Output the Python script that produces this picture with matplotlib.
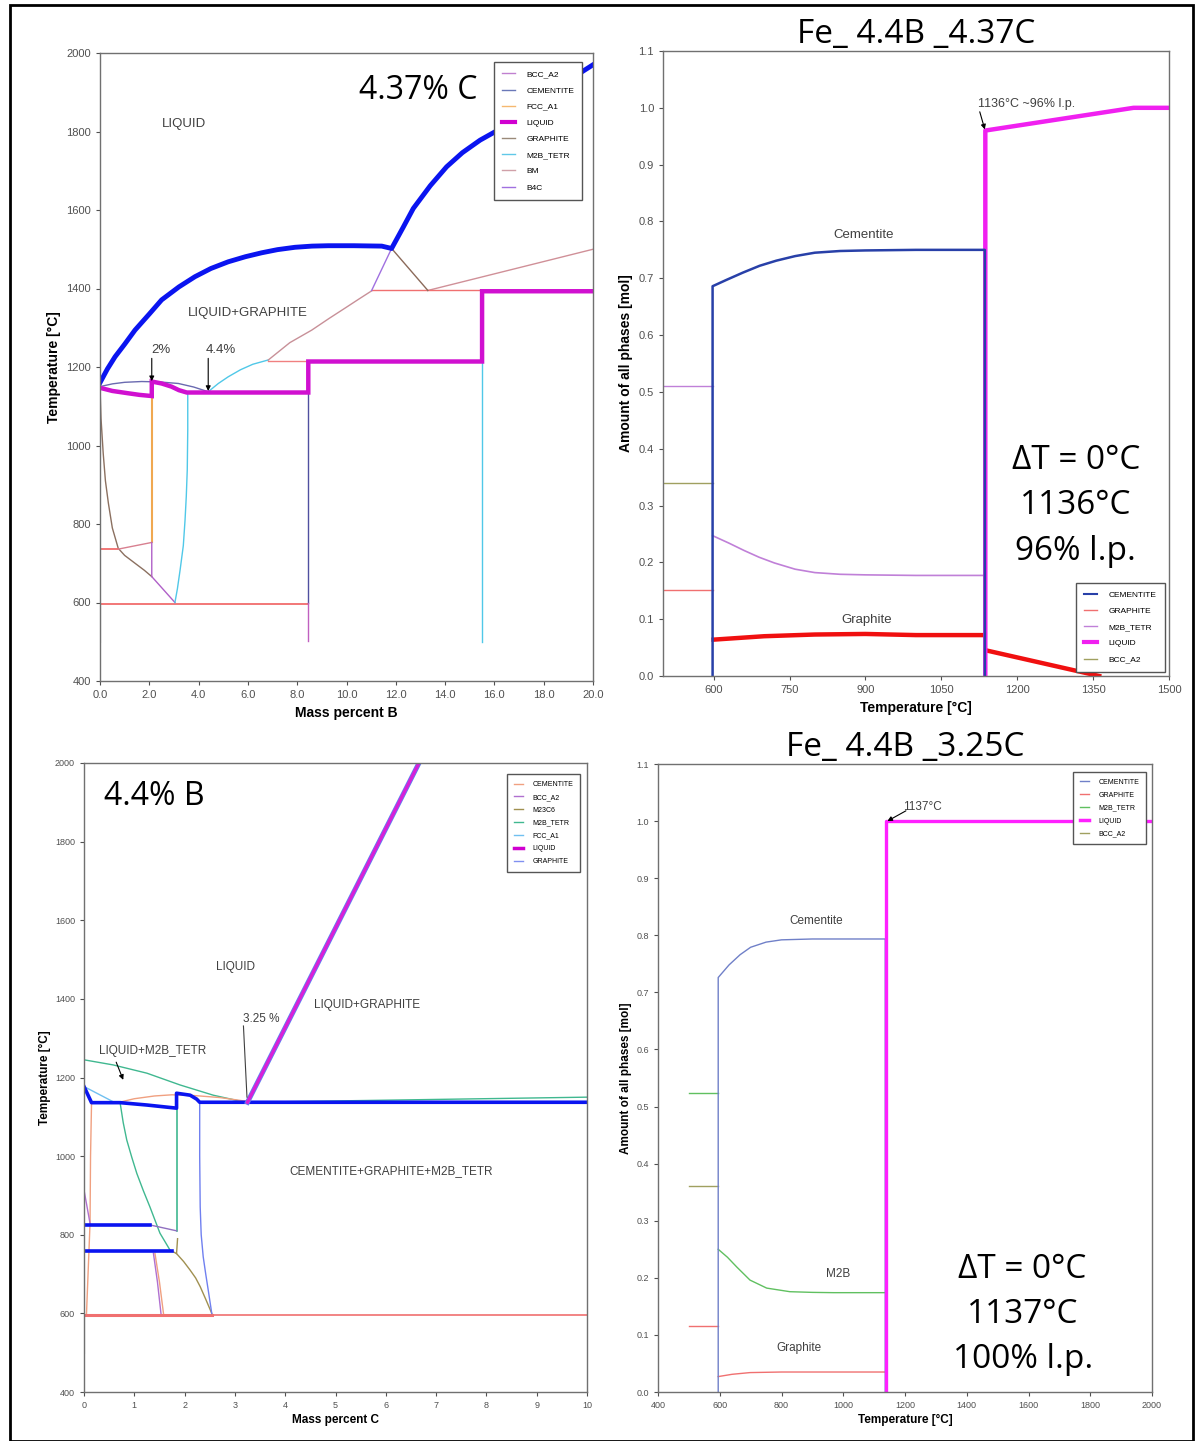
import numpy as np
import matplotlib.pyplot as plt
from matplotlib.patches import Rectangle

plt.rcParams['font.family'] = ['Liberation Sans', 'DejaVu Sans']
BIG = ['Open Sans', 'DejaVu Sans']

# ---------------- Fe-B section at 4.37 % C ----------------
liq_b_x = [0, 0.3, 0.61, 1.0, 1.42, 2.0, 2.5, 3.2, 3.85, 4.5, 5.2, 5.9, 6.56, 7.2, 7.91, 8.6,
           9.26, 10.3, 11.43, 11.83, 12.3, 12.71, 13.4, 14.06, 14.7, 15.42, 16.16, 17.0, 18.0, 19.0, 20.0]
liq_b_t = [1160, 1195, 1226, 1258, 1294, 1335, 1371, 1404, 1430, 1451, 1468, 1481, 1491, 1499, 1505, 1508,
           1509, 1509, 1508, 1502, 1556, 1604, 1662, 1710, 1746, 1778, 1804, 1845, 1888, 1930, 1970]

step_b_x = [0, 0.5, 1.15, 1.6, 2.1, 2.1, 2.5, 2.9, 3.2, 3.52, 8.45, 8.45, 15.5, 15.5, 20]
step_b_t = [1147, 1139, 1133, 1129, 1126, 1163, 1158, 1150, 1141, 1135, 1135, 1214, 1214, 1393, 1393]

cem_b_x = [0, 0.5, 1.0, 1.69, 2.4, 3.18, 3.8, 4.39]
cem_b_t = [1150, 1157, 1161, 1163, 1162, 1158, 1149, 1137]

gra_b_x = [0, 0.04, 0.13, 0.22, 0.34, 0.5, 0.74, 1.0, 1.42, 1.8, 2.1]
gra_b_t = [1150, 1070, 980, 910, 853, 790, 738, 720, 700, 682, 666]

m2b_up_x = [4.39, 4.8, 5.2, 5.7, 6.2, 6.83]
m2b_up_t = [1137, 1158, 1175, 1193, 1207, 1218]
m2b_dn_x = [3.56, 3.56, 3.54, 3.5, 3.45, 3.38, 3.25, 3.14, 3.04]
m2b_dn_t = [1133, 1040, 938, 870, 810, 745, 683, 635, 600]

bm_x = [6.83, 7.7, 8.59, 9.3, 9.94, 10.5, 11.02]
bm_t = [1218, 1262, 1294, 1324, 1350, 1373, 1394]

# ---------------- phase fractions, Fe-4.4B-4.37C ----------------
cem1_t = [598, 625, 658, 691, 724, 761, 800, 850, 900, 1000, 1136]
cem1_f = [0.686, 0.697, 0.71, 0.722, 0.731, 0.739, 0.745, 0.748, 0.749, 0.75, 0.75]
m2b1_t = [598, 630, 660, 690, 720, 761, 800, 850, 900, 1000, 1136]
m2b1_f = [0.247, 0.234, 0.221, 0.209, 0.199, 0.188, 0.182, 0.179, 0.178, 0.177, 0.177]
gra1_t = [600, 650, 700, 800, 900, 1000, 1136]
gra1_f = [0.064, 0.067, 0.07, 0.073, 0.074, 0.072, 0.072]
gra1_hi_t = [1139, 1362]
gra1_hi_f = [0.045, 0.0]
liq1_t = [1137, 1137, 1430, 1500]
liq1_f = [0.0, 0.96, 1.0, 1.0]
low1 = {'M2B_TETR': 0.51, 'BCC_A2': 0.34, 'GRAPHITE': 0.152}

# ---------------- Fe-C section at 4.4 % B ----------------
liq_c_x = [3.25, 6.66]
liq_c_t = [1137, 2000]

eut_c_x = [0, 0.15, 0.72, 1.25, 1.84, 1.84, 2.11, 2.24, 2.3, 10]
eut_c_t = [1177, 1136, 1136, 1130, 1122, 1160, 1155, 1145, 1137, 1137]

m2b_arc_x = [0, 0.58, 1.25, 1.91, 2.57, 3.17, 3.25, 10]
m2b_arc_t = [1245, 1232, 1211, 1181, 1155, 1138, 1137, 1150]
m2b_sol_x = [0.72, 0.78, 0.85, 0.95, 1.05, 1.18, 1.31, 1.51, 1.71]
m2b_sol_t = [1134, 1085, 1041, 997, 956, 912, 871, 804, 761]

cem_arc_x = [0.7, 1.0, 1.4, 1.75, 2.2, 2.7, 3.2]
cem_arc_t = [1137, 1146, 1153, 1156, 1154, 1149, 1140]

m23_x = [1.84, 1.98, 2.11, 2.22, 2.31, 2.42, 2.54]
m23_t = [752, 732, 710, 690, 668, 636, 600]

gr_c_x = [2.3, 2.3, 2.31, 2.33, 2.37, 2.42, 2.47, 2.54]
gr_c_t = [1137, 1000, 871, 800, 744, 700, 659, 600]

# ---------------- phase fractions, Fe-4.4B-3.25C ----------------
cem2_t = [595, 630, 666, 700, 750, 800, 900, 1000, 1136]
cem2_f = [0.726, 0.748, 0.766, 0.779, 0.788, 0.792, 0.7935, 0.7935, 0.7935]
m2b2_t = [595, 625, 655, 698, 752, 827, 900, 968, 1135]
m2b2_f = [0.25, 0.236, 0.219, 0.196, 0.182, 0.1757, 0.1745, 0.174, 0.174]
gra2_t = [595, 640, 698, 800, 1000, 1137]
gra2_f = [0.027, 0.031, 0.034, 0.035, 0.035, 0.035]
liq2_t = [1137, 1137, 2000]
liq2_f = [0.0, 1.0, 1.0]
low2 = {'M2B_TETR': 0.523, 'BCC_A2': 0.36, 'GRAPHITE': 0.116}

W, H = 1195, 1441
fig = plt.figure(figsize=(W / 100, H / 100), dpi=100)


def box(l, r, t, b):
    return [l / W, 1 - b / H, (r - l) / W, (b - t) / H]


def style(ax, fs):
    for s in ax.spines.values():
        s.set_color('#707070')
        s.set_linewidth(1.0)
    ax.tick_params(labelsize=fs, colors='#505050', length=3, width=0.8)


def arrow(ax, xy, xytext):
    ax.annotate('', xy=xy, xytext=xytext,
                arrowprops=dict(arrowstyle='-|>', color='black', lw=0.8,
                                mutation_scale=7, shrinkA=0, shrinkB=0))


def legend(ax, handles, labels, **kw):
    opts = dict(fontsize=6, frameon=True, fancybox=False, edgecolor='#555555', framealpha=1,
                handlelength=1.5, borderpad=1.0, labelspacing=1.0, handletextpad=1.4)
    opts.update(kw)
    lg = ax.legend(handles, labels, **opts)
    lg.get_frame().set_linewidth(1.0)
    lg.set_zorder(10)
    return lg


# ---- top left ----
ax1 = fig.add_axes(box(100, 593, 53, 681))
ax1.plot(gra_b_x, gra_b_t, color='#8b7060', lw=1)
ax1.plot([0, 0.74], [736, 736], color='#f06060', lw=1.2)
ax1.plot([0.74, 2.1], [736, 753], color='#d88090', lw=1)
ax1.plot([0, 8.45], [597, 597], color='#f06060', lw=1.2)
ax1.plot([2.1, 2.1], [1126, 753], color='#f0a850', lw=1.5)
ax1.plot([2.1, 2.1, 3.04], [753, 666, 600], color='#b060c8', lw=1)
ax1.plot(m2b_dn_x, m2b_dn_t, color='#50c8e8', lw=1)
ax1.plot(m2b_up_x, m2b_up_t, color='#50c8e8', lw=1)
ax1.plot([15.5, 15.5], [1214, 500], color='#50c8e8', lw=1)
ax1.plot([8.45, 8.45], [1135, 600], color='#5050a0', lw=1)
ax1.plot([8.45, 8.45], [600, 503], color='#c060c0', lw=1)
ax1.plot([6.83, 8.45], [1216, 1216], color='#f08080', lw=1)
ax1.plot(bm_x, bm_t, color='#c89098', lw=1)
ax1.plot([13.3, 20], [1395, 1500], color='#d09098', lw=1)
ax1.plot([11.02, 15.5], [1395, 1395], color='#f07070', lw=1)
ax1.plot([11.02, 11.83], [1395, 1502], color='#a070e0', lw=1)
ax1.plot([11.83, 13.3], [1502, 1395], color='#8b6a5a', lw=1)
ax1.plot([0, 0], [600, 500], color='#909090', lw=0.8)
ax1.plot(cem_b_x, cem_b_t, color='#6a6ab0', lw=1)
ax1.plot(step_b_x, step_b_t, color='#d010d0', lw=3.2, solid_joinstyle='miter')
ax1.plot(liq_b_x, liq_b_t, color='#0a14f0', lw=3.5)
h1 = [plt.Line2D([], [], color=c, lw=w) for c, w in
      [('#c080d0', 1), ('#6a78b8', 1), ('#f5b870', 1), ('#d000d0', 3),
       ('#9a8a7a', 1), ('#60c8e8', 1), ('#d0a0a8', 1), ('#a070e0', 1)]]
legend(ax1, h1, ['BCC_A2', 'CEMENTITE', 'FCC_A1', 'LIQUID', 'GRAPHITE', 'M2B_TETR', 'BM', 'B4C'],
       loc='upper right', bbox_to_anchor=(0.987, 0.992))
ax1.set_xlim(0, 20)
ax1.set_ylim(400, 2000)
ax1.set_xticks(np.arange(0, 21, 2))
ax1.set_xticklabels([f'{v:.1f}' for v in np.arange(0, 21, 2)])
ax1.set_yticks(np.arange(400, 2001, 200))
style(ax1, 8)
ax1.set_xlabel('Mass percent B', fontsize=10, fontweight='bold', labelpad=4)
ax1.set_ylabel('Temperature [°C]', fontsize=10, fontweight='bold', labelpad=4)
ax1.text(3.4, 1820, 'LIQUID', fontsize=9.5, color='#404040', ha='center', va='center')
ax1.text(6.0, 1337, 'LIQUID+GRAPHITE', fontsize=9.5, color='#404040', ha='center', va='center')
ax1.text(12.9, 1905, '4.37% C', fontsize=23, family=BIG, ha='center', va='center')
ax1.text(2.1, 1228, '2%', fontsize=9.5, color='#404040', ha='left', va='bottom')
ax1.text(4.3, 1228, '4.4%', fontsize=9.5, color='#404040', ha='left', va='bottom')
arrow(ax1, (2.1, 1164), (2.1, 1222))
arrow(ax1, (4.39, 1139), (4.39, 1222))

# ---- top right ----
ax2 = fig.add_axes(box(663, 1169, 51, 676))
ax2.plot([500, 598], [low1['M2B_TETR']] * 2, color='#c080d8', lw=1)
ax2.plot([500, 598], [low1['BCC_A2']] * 2, color='#a0a060', lw=1)
ax2.plot([500, 598], [low1['GRAPHITE']] * 2, color='#f07070', lw=1)
ax2.plot(m2b1_t, m2b1_f, color='#c080d8', lw=1.2)
ax2.plot(gra1_t, gra1_f, color='#f01010', lw=3.2)
ax2.plot(gra1_hi_t, gra1_hi_f, color='#f01010', lw=3.2)
ax2.plot(liq1_t, liq1_f, color='#f020f0', lw=3.2)
ax2.plot([598] + cem1_t + [1136], [0] + cem1_f + [0], color='#2840a8', lw=1.8)
h2 = [plt.Line2D([], [], color=c, lw=w) for c, w in
      [('#2840a8', 1.5), ('#f07070', 1), ('#c080d8', 1), ('#f020f0', 3), ('#a0a060', 1)]]
legend(ax2, h2, ['CEMENTITE', 'GRAPHITE', 'M2B_TETR', 'LIQUID', 'BCC_A2'],
       loc='lower right', bbox_to_anchor=(1.0, 0.0))
ax2.set_xlim(500, 1500)
ax2.set_ylim(0, 1.1)
ax2.set_xticks([600, 750, 900, 1050, 1200, 1350, 1500])
ax2.set_yticks(np.arange(0, 1.11, 0.1))
ax2.set_yticklabels([f'{v:.1f}' for v in np.arange(0, 1.11, 0.1)])
style(ax2, 8)
ax2.set_xlabel('Temperature [°C]', fontsize=10, fontweight='bold', labelpad=4)
ax2.set_ylabel('Amount of all phases [mol]', fontsize=10, fontweight='bold', labelpad=4)
ax2.set_title('Fe_ 4.4B _4.37C', fontsize=24, family=BIG, pad=6)
ax2.text(897, 0.777, 'Cementite', fontsize=9.5, color='#404040', ha='center', va='center')
ax2.text(903, 0.099, 'Graphite', fontsize=9.5, color='#404040', ha='center', va='center')
ax2.text(1122, 1.007, '1136°C ~96% l.p.', fontsize=9, color='#404040', ha='left', va='center')
arrow(ax2, (1136, 0.962), (1126, 0.993))
for y, s in zip([0.38, 0.30, 0.22], ['ΔT = 0°C', '1136°C', '96% l.p.']):
    ax2.text(1316, y, s, fontsize=24, family=BIG, ha='center', va='center')

# ---- bottom left ----
ax3 = fig.add_axes(box(84, 587, 763, 1392))
ax3.plot([0, 10], [597, 597], color='#f07070', lw=1.2)
ax3.plot([0, 2.54], [597, 597], color='#f07070', lw=2.2)
ax3.plot(m2b_arc_x, m2b_arc_t, color='#40b890', lw=1)
ax3.plot(m2b_sol_x, m2b_sol_t, color='#40b890', lw=1)
ax3.plot([1.84, 1.84], [1122, 810], color='#40b890', lw=1.2)
ax3.plot([0, 0.6], [1177, 1137], color='#70c0f0', lw=1)
ax3.plot(cem_arc_x, cem_arc_t, color='#f0a080', lw=1)
ax3.plot([0.15, 0.13, 0.12, 0.05], [1136, 1000, 829, 600], color='#f0a080', lw=1)
ax3.plot([1.41, 1.5, 1.58], [753, 680, 600], color='#f0a080', lw=1)
ax3.plot([1.38, 1.46, 1.53], [753, 680, 600], color='#b070d0', lw=1)
ax3.plot([0, 0.12], [914, 829], color='#b070d0', lw=1)
ax3.plot([1.31, 1.84], [825, 810], color='#9070c0', lw=1)
ax3.plot(m23_x, m23_t, color='#a09050', lw=1)
ax3.plot([1.74, 1.84, 1.86], [759, 752, 790], color='#a09050', lw=1)
ax3.plot(gr_c_x, gr_c_t, color='#7080f0', lw=1)
ax3.plot([0, 0], [600, 500], color='#909090', lw=0.8)
ax3.plot([0, 1.31], [825, 825], color='#0a14f0', lw=2.6)
ax3.plot([0, 1.74], [759, 759], color='#0a14f0', lw=2.6)
ax3.plot(eut_c_x, eut_c_t, color='#0a14f0', lw=2.6)
ax3.plot(liq_c_x, liq_c_t, color='#6080f0', lw=3.6)
ax3.plot(liq_c_x, liq_c_t, color='#d820d8', lw=2.4)
h3 = [plt.Line2D([], [], color=c, lw=w) for c, w in
      [('#f0a080', 1), ('#b070d0', 1), ('#a09050', 1), ('#40b890', 1),
       ('#70c0f0', 1), ('#d000d0', 2.5), ('#8090f0', 1)]]
legend(ax3, h3, ['CEMENTITE', 'BCC_A2', 'M23C6', 'M2B_TETR', 'FCC_A1', 'LIQUID', 'GRAPHITE'],
       loc='upper right', bbox_to_anchor=(0.993, 0.988), fontsize=5, labelspacing=0.85,
       handlelength=1.3, handletextpad=1.3)
ax3.set_xlim(0, 10)
ax3.set_ylim(400, 2000)
ax3.set_xticks(range(0, 11))
ax3.set_yticks(np.arange(400, 2001, 200))
style(ax3, 6.5)
ax3.set_xlabel('Mass percent C', fontsize=8.5, fontweight='bold', labelpad=3)
ax3.set_ylabel('Temperature [°C]', fontsize=8.5, fontweight='bold', labelpad=3)
ax3.text(1.4, 1916, '4.4% B', fontsize=23, family=BIG, ha='center', va='center')
ax3.text(3.02, 1480, 'LIQUID', fontsize=8.5, color='#404040', ha='center', va='center')
ax3.text(5.63, 1385, 'LIQUID+GRAPHITE', fontsize=8.5, color='#404040', ha='center', va='center')
ax3.text(1.36, 1267, 'LIQUID+M2B_TETR', fontsize=8.5, color='#404040', ha='center', va='center')
ax3.text(6.1, 962, 'CEMENTITE+GRAPHITE+M2B_TETR', fontsize=8.5, color='#404040', ha='center', va='center')
ax3.text(3.53, 1349, '3.25 %', fontsize=8.5, color='#404040', ha='center', va='center')
ax3.plot([3.17, 3.24], [1331, 1150], color='#404040', lw=0.8)
arrow(ax3, (0.78, 1194), (0.64, 1239))

# ---- bottom right ----
ax4 = fig.add_axes(box(658, 1152, 764, 1392))
ax4.plot([500, 595], [low2['M2B_TETR']] * 2, color='#60c060', lw=1)
ax4.plot([500, 595], [low2['BCC_A2']] * 2, color='#a0a060', lw=1)
ax4.plot([500, 595], [low2['GRAPHITE']] * 2, color='#f07070', lw=1)
ax4.plot(m2b2_t, m2b2_f, color='#60c060', lw=1)
ax4.plot(gra2_t, gra2_f, color='#f07070', lw=1)
ax4.plot([595] + cem2_t + [1136], [0] + cem2_f + [0], color='#7080c8', lw=1)
ax4.plot(liq2_t, liq2_f, color='#ff20ff', lw=2.4)
h4 = [plt.Line2D([], [], color=c, lw=w) for c, w in
      [('#7080c8', 1), ('#f07070', 1), ('#60c060', 1), ('#ff20ff', 2.5), ('#a0a060', 1)]]
legend(ax4, h4, ['CEMENTITE', 'GRAPHITE', 'M2B_TETR', 'LIQUID', 'BCC_A2'],
       loc='upper right', bbox_to_anchor=(0.995, 0.993), fontsize=5, labelspacing=0.85,
       handlelength=1.3, handletextpad=1.3)
ax4.set_xlim(400, 2000)
ax4.set_ylim(0, 1.1)
ax4.set_xticks(range(400, 2001, 200))
ax4.set_yticks(np.arange(0, 1.11, 0.1))
ax4.set_yticklabels([f'{v:.1f}' for v in np.arange(0, 1.11, 0.1)])
style(ax4, 6.5)
ax4.set_xlabel('Temperature [°C]', fontsize=8.5, fontweight='bold', labelpad=3)
ax4.set_ylabel('Amount of all phases [mol]', fontsize=8.5, fontweight='bold', labelpad=3)
ax4.set_title('Fe_ 4.4B _3.25C', fontsize=24, family=BIG, pad=6)
ax4.text(913, 0.825, 'Cementite', fontsize=8.5, color='#404040', ha='center', va='center')
ax4.text(982, 0.207, 'M2B', fontsize=8.5, color='#404040', ha='center', va='center')
ax4.text(856, 0.077, 'Graphite', fontsize=8.5, color='#404040', ha='center', va='center')
ax4.text(1258, 1.024, '1137°C', fontsize=8.5, color='#404040', ha='center', va='center')
arrow(ax4, (1143, 1.0), (1203, 1.018))
for y, s in zip([0.215, 0.136, 0.057], ['ΔT = 0°C', '1137°C', '100% l.p.']):
    ax4.text(1581, y, s, fontsize=24, family=BIG, ha='center', va='center')

# outer frame
fig.add_artist(Rectangle((10 / W, 0), 1183 / W, 1 - 5 / H, transform=fig.transFigure,
                         fill=False, edgecolor='black', lw=2))

fig.savefig('out.png', dpi=100)
